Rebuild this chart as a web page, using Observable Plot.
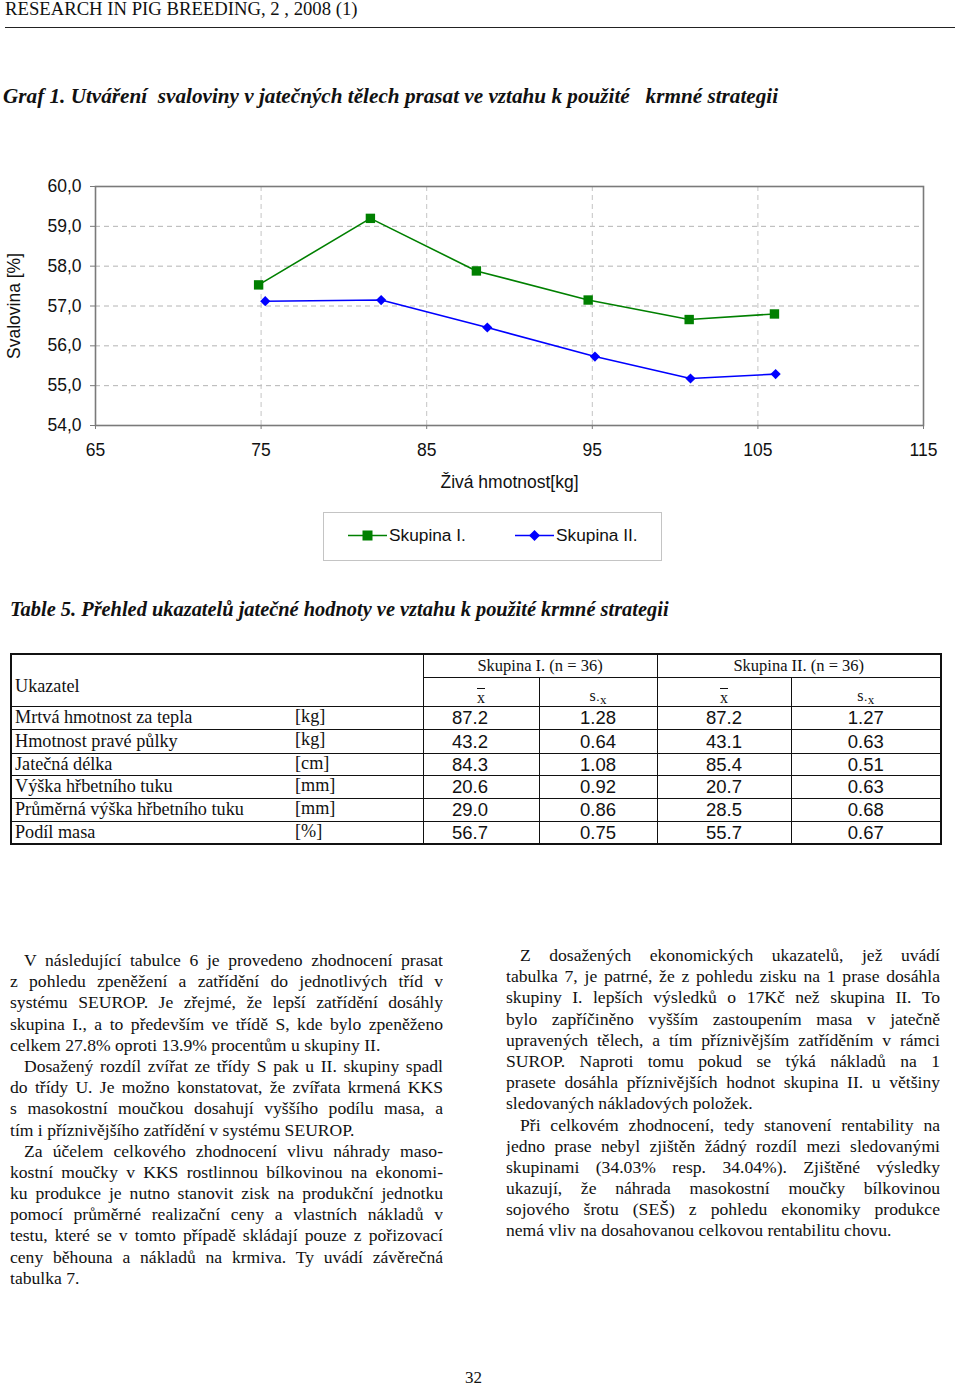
<!DOCTYPE html>
<html>
<head>
<meta charset="utf-8">
<script src="https://cdn.jsdelivr.net/npm/d3@7"></script>
<script src="https://cdn.jsdelivr.net/npm/@observablehq/plot@0.6"></script>
<style>
  html, body { margin: 0; padding: 0; background: #fff; }
  body { width: 960px; height: 1385px; position: relative; overflow: hidden; color: #111; font-family: "Liberation Serif", "Times New Roman", serif; }
  .abs { position: absolute; }
  #header { left: 5px; top: -2px; font-size: 18.7px; white-space: pre; }
  #rule { left: 5px; top: 27px; width: 950px; height: 0; border-top: 1.6px solid #222; }
  .ttl { font-weight: bold; font-style: italic; white-space: pre; }
  #graftitle { left: 3px; top: 84px; font-size: 21.2px; }
  #tabtitle { left: 10px; top: 598px; font-size: 20.4px; }
  #chart { left: 0; top: 170px; }
  #legend { left: 323px; top: 512px; width: 337px; height: 47px; border: 1px solid #c4c4c4; font-family: "Liberation Sans", Arial, sans-serif; font-size: 17.3px; }
  .li { position: absolute; top: 12px; display: flex; align-items: center; gap: 2px; }
  table { position: absolute; left: 10px; top: 653px; border-collapse: collapse; border: 2px solid #111; table-layout: fixed; }
  td { border: 1.3px solid #111; padding: 0; overflow: visible; white-space: nowrap; line-height: 19px; }
  td.name { font-size: 18.2px; position: relative; padding-left: 3px; }
  td.name .u { position: absolute; left: 283px; top: 0; }
  td.num { font-family: "Liberation Sans", Arial, sans-serif; font-size: 18.5px; text-align: center; }
  td.shift { padding-right: 22px; }
  td.hd { font-size: 16.5px; text-align: center; }
  td.sub { font-size: 16px; text-align: center; vertical-align: bottom; }
  .col { position: absolute; font-size: 17.6px; line-height: 21.2px; }
  .col div { text-align: justify; text-align-last: justify; height: 21.2px; overflow: hidden; }
  .col div.last { text-align-last: left; }
  .col div.ind { text-indent: 14px; }
  #colL { left: 10px; top: 950px; width: 433px; }
  #colR { left: 506px; top: 945px; width: 434px; }
  #pnum { left: 465px; top: 1370px; font-size: 17px; line-height: 15px; }
</style>
</head>
<body>
<div id="header" class="abs"></div>
<div id="rule" class="abs"></div>
<div id="graftitle" class="abs ttl"></div>
<div id="chart" class="abs"></div>
<div id="legend" class="abs"></div>
<div id="tabtitle" class="abs ttl"></div>
<div id="tablewrap"></div>
<div id="colL" class="col"></div>
<div id="colR" class="col"></div>
<div id="pnum" class="abs"></div>

<script>
// ---------- text ----------
const headerText = "RESEARCH IN PIG BREEDING, 2 , 2008 (1)";
const grafTitle = "Graf 1. Utváření  svaloviny v jatečných tělech prasat ve vztahu k použité   krmné strategii";
const tableTitle = "Table 5. Přehled ukazatelů jatečné hodnoty ve vztahu k použité krmné strategii";
const pageNumber = "32";

// ---------- chart data ----------
const groups = ["Skupina I.", "Skupina II."];
const groupColors = ["#008000", "#0000ff"];
const weightsI = [74.85, 81.6, 88.0, 94.75, 100.85, 106.0];
const muscleI = [57.53, 59.2, 57.88, 57.15, 56.66, 56.8];
const weightsII = [75.25, 82.25, 88.66, 95.16, 100.93, 106.07];
const muscleII = [57.12, 57.15, 56.46, 55.73, 55.18, 55.29];
const xTicks = [65, 75, 85, 95, 105, 115];
const yTicks = [54, 55, 56, 57, 58, 59, 60];
const xLabel = "Živá hmotnost[kg]";
const yLabel = "Svalovina [%]";

// ---------- table data ----------
const indicators = ["Mrtvá hmotnost za tepla", "Hmotnost pravé půlky", "Jatečná délka", "Výška hřbetního tuku", "Průměrná výška hřbetního tuku", "Podíl masa"];
const units = ["[kg]", "[kg]", "[cm]", "[mm]", "[mm]", "[%]"];
const meanI = ["87.2", "43.2", "84.3", "20.6", "29.0", "56.7"];
const seI = ["1.28", "0.64", "1.08", "0.92", "0.86", "0.75"];
const meanII = ["87.2", "43.1", "85.4", "20.7", "28.5", "55.7"];
const seII = ["1.27", "0.63", "0.51", "0.63", "0.68", "0.67"];
const groupHeaders = ["Skupina I.  (n = 36)", "Skupina II. (n = 36)"];
const firstHeader = "Ukazatel";

// ---------- body text (lines as printed) ----------
const leftLines = [
  ["V následující tabulce 6 je provedeno zhodnocení prasat", "ind"],
  ["z pohledu zpeněžení a zatřídění do jednotlivých tříd v", ""],
  ["systému SEUROP. Je zřejmé, že lepší zatřídění dosáhly", ""],
  ["skupina I., a to především ve třídě S, kde bylo zpeněženo", ""],
  ["celkem 27.8% oproti 13.9% procentům u skupiny II.", "last"],
  ["Dosažený rozdíl zvířat ze třídy S pak u II. skupiny spadl", "ind"],
  ["do třídy U. Je možno konstatovat, že zvířata krmená KKS", ""],
  ["s masokostní moučkou dosahují vyššího podílu masa, a", ""],
  ["tím i příznivějšího zatřídění v systému SEUROP.", "last"],
  ["Za účelem celkového zhodnocení vlivu náhrady maso-", "ind"],
  ["kostní moučky v KKS rostlinnou bílkovinou na ekonomi-", ""],
  ["ku produkce je nutno stanovit zisk na produkční jednotku", ""],
  ["pomocí průměrné realizační ceny a vlastních nákladů v", ""],
  ["testu, které se v tomto případě skládají pouze z pořizovací", ""],
  ["ceny běhouna a nákladů na krmiva. Ty uvádí závěrečná", ""],
  ["tabulka 7.", "last"]
];
const rightLines = [
  ["Z dosažených ekonomických ukazatelů, jež uvádí", "ind"],
  ["tabulka 7, je patrné, že z pohledu zisku na 1 prase dosáhla", ""],
  ["skupiny I. lepších výsledků o 17Kč než skupina II. To", ""],
  ["bylo zapříčiněno vyšším zastoupením masa v jatečně", ""],
  ["upravených tělech, a tím příznivějším zatříděním v rámci", ""],
  ["SUROP. Naproti tomu pokud se týká  nákladů na 1", ""],
  ["prasete dosáhla příznivějších hodnot skupina II. u většiny", ""],
  ["sledovaných nákladových položek.", "last"],
  ["Při celkovém zhodnocení, tedy stanovení rentability na", "ind"],
  ["jedno prase nebyl zjištěn žádný rozdíl mezi sledovanými", ""],
  ["skupinami (34.03% resp. 34.04%). Zjištěné výsledky", ""],
  ["ukazují, že náhrada masokostní moučky bílkovinou", ""],
  ["sojového šrotu (SEŠ) z pohledu ekonomiky produkce", ""],
  ["nemá vliv na dosahovanou celkovou rentabilitu chovu.", "last"]
];

document.getElementById("header").textContent = headerText;
document.getElementById("graftitle").textContent = grafTitle;
document.getElementById("tabtitle").textContent = tableTitle;
document.getElementById("pnum").textContent = pageNumber;

// ---------- chart ----------
const data = [
  ...weightsI.map((w, i) => ({group: groups[0], w, m: muscleI[i]})),
  ...weightsII.map((w, i) => ({group: groups[1], w, m: muscleII[i]}))
];
const fmtY = d => d.toFixed(1).replace(".", ",");
const chart = Plot.plot({
  width: 960,
  height: 330,
  marginLeft: 95,
  marginRight: 37,
  marginTop: 16,
  marginBottom: 75,
  style: {fontFamily: "'Liberation Sans', Arial, sans-serif", fontSize: "17.5px", color: "#111", background: "transparent", overflow: "visible"},
  x: {domain: [65, 115]},
  y: {domain: [54, 60]},
  color: {domain: groups, range: groupColors},
  marks: [
    Plot.gridY(yTicks.slice(1, -1), {stroke: "#b4b4b4", strokeOpacity: 1, strokeWidth: 1, strokeDasharray: "5,4"}),
    Plot.gridX(xTicks.slice(1, -1), {stroke: "#c4c4c4", strokeOpacity: 1, strokeWidth: 1, strokeDasharray: "5,4"}),
    Plot.frame({stroke: "#7a7a7a", strokeWidth: 1.6}),
    Plot.axisY(yTicks, {tickFormat: fmtY, tickSize: 5, tickPadding: 9, stroke: "#7a7a7a", label: yLabel, labelAnchor: "center", labelArrow: "none", labelOffset: 88}),
    Plot.axisX(xTicks, {tickSize: 4, tickPadding: 14, stroke: "#7a7a7a", label: xLabel, labelAnchor: "center", labelArrow: "none", labelOffset: 62}),
    Plot.line(data, {x: "w", y: "m", z: "group", stroke: "group", strokeWidth: 1.6}),
    Plot.dot(data.filter(d => d.group === groups[0]), {x: "w", y: "m", symbol: "square", fill: "group", r: 5.3}),
    Plot.dot(data.filter(d => d.group === groups[1]), {x: "w", y: "m", symbol: "diamond2", fill: "group", r: 4.6})
  ]
});
document.getElementById("chart").appendChild(chart);

// ---------- legend ----------
const legend = document.getElementById("legend");
const legendLefts = [24, 191];
groups.forEach((g, i) => {
  const item = document.createElement("div");
  item.className = "li";
  item.style.left = legendLefts[i] + "px";
  const sym = i === 0
    ? `<rect x="14.5" y="4.5" width="10" height="10" fill="${groupColors[i]}"/>`
    : `<path d="M19.5 4 L25 9.5 L19.5 15 L14 9.5 Z" fill="${groupColors[i]}"/>`;
  item.innerHTML = `<svg width="39" height="19"><line x1="0" x2="39" y1="9.5" y2="9.5" stroke="${groupColors[i]}" stroke-width="1.6"/>${sym}</svg><span>${g}</span>`;
  legend.appendChild(item);
});

// ---------- table ----------
const colWidths = [412, 116, 118, 134, 150];
const headRows = [23, 29];
const rowH = [23, 24, 22, 23, 23, 23];
let html = `<table><colgroup>${colWidths.map(w => `<col style="width:${w}px">`).join("")}</colgroup>`;
html += `<tr style="height:${headRows[0]}px"><td class="name" rowspan="2" style="vertical-align:middle;padding-top:12px">${firstHeader}</td>`;
html += `<td class="hd" colspan="2">${groupHeaders[0]}</td><td class="hd" colspan="2">${groupHeaders[1]}</td></tr>`;
const xbar = `<span style="text-decoration:overline;position:relative;top:1px">x</span>`;
const sx = `<span style="font-size:16px">s</span><span style="position:relative;top:3px;font-size:13px">·x</span>`;
html += `<tr style="height:${headRows[1]}px"><td class="sub">${xbar}</td><td class="sub">${sx}</td><td class="sub">${xbar}</td><td class="sub">${sx}</td></tr>`;
indicators.forEach((name, i) => {
  html += `<tr style="height:${rowH[i]}px"><td class="name">${name}<span class="u">${units[i]}</span></td>`;
  html += `<td class="num shift">${meanI[i]}</td><td class="num">${seI[i]}</td><td class="num">${meanII[i]}</td><td class="num">${seII[i]}</td></tr>`;
});
html += `</table>`;
document.getElementById("tablewrap").innerHTML = html;

// ---------- body text ----------
function fillCol(id, lines) {
  const el = document.getElementById(id);
  lines.forEach(([t, cls]) => {
    const d = document.createElement("div");
    if (cls === "ind") d.className = "ind";
    if (cls === "last") d.className = "last";
    d.textContent = t;
    el.appendChild(d);
  });
}
fillCol("colL", leftLines);
fillCol("colR", rightLines);
</script>
</body>
</html>
